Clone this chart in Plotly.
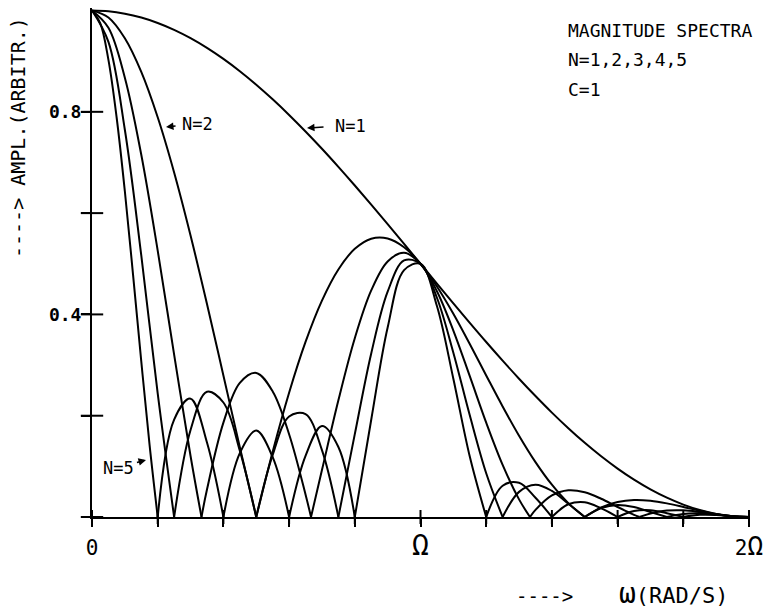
import plotly.graph_objects as go

# ---------------- data (omega in units of Omega, amplitude arbitrary) ----------------
n1_w = [0, 0.05, 0.1, 0.15, 0.2, 0.25, 0.3, 0.35, 0.4, 0.45, 0.5, 0.55, 0.6, 0.65, 0.7, 0.75,
        0.8, 0.85, 0.9, 0.95, 1.0, 1.05, 1.1, 1.15, 1.2, 1.25, 1.3, 1.35, 1.4, 1.45, 1.5, 1.55,
        1.6, 1.65, 1.7, 1.75, 1.8, 1.85, 1.9, 1.95, 2.0]
n1_amp = [1.0, 0.9985, 0.9938, 0.9862, 0.9755, 0.9619, 0.9455, 0.9263, 0.9045, 0.8802, 0.8536,
          0.8247, 0.7939, 0.7612, 0.7270, 0.6913, 0.6545, 0.6167, 0.5782, 0.5392, 0.5, 0.4608,
          0.4218, 0.3833, 0.3455, 0.3087, 0.2730, 0.2388, 0.2061, 0.1753, 0.1464, 0.1198, 0.0955,
          0.0737, 0.0545, 0.0381, 0.0245, 0.0138, 0.0062, 0.0015, 0.0]

n2_w = [0, 0.05, 0.1, 0.15, 0.2, 0.25, 0.3, 0.35, 0.4, 0.45, 0.5, None,
        0.5, 0.55, 0.6, 0.65, 0.7, 0.75, 0.8, 0.85, 0.9, 0.95, 1.0, 1.05, 1.1, 1.15, 1.2, 1.25,
        1.3, 1.35, 1.4, 1.45, 1.5, None,
        1.5, 1.55, 1.6, 1.65, 1.7, 1.75, 1.8, 1.85, 1.9, 1.95, 2.0]
n2_amp = [1.0, 0.9862, 0.9452, 0.8787, 0.7892, 0.6802, 0.5558, 0.4205, 0.2795, 0.1377, 0.0, None,
          0.0, 0.1290, 0.2453, 0.3456, 0.4273, 0.4888, 0.5295, 0.5495, 0.5499, 0.5326, 0.5,
          0.4551, 0.4012, 0.3415, 0.2795, 0.2183, 0.1605, 0.1084, 0.0637, 0.0274, 0.0, None,
          0.0, 0.0187, 0.0295, 0.0335, 0.0320, 0.0269, 0.0198, 0.0123, 0.0059, 0.0015, 0.0]

n3_w = [0, 0.05, 0.1, 0.15, 0.2, 0.25, 0.3, 0.3333, None,
        0.3333, 0.35, 0.4, 0.45, 0.5, 0.55, 0.6, 0.65, 0.6667, None,
        0.6667, 0.7, 0.75, 0.8, 0.85, 0.9, 0.95, 1.0, 1.05, 1.1, 1.15, 1.2, 1.25, 1.3, 1.3333, None,
        1.3333, 1.35, 1.4, 1.45, 1.5, 1.55, 1.6, 1.65, 1.6667, None,
        1.6667, 1.7, 1.75, 1.8, 1.85, 1.9, 1.95, 2.0]
n3_amp = [1.0, 0.9659, 0.8673, 0.7152, 0.5261, 0.3206, 0.1204, 0.0, None,
          0.0, 0.0542, 0.1863, 0.2647, 0.2845, 0.2480, 0.1635, 0.0445, 0.0, None,
          0.0, 0.0926, 0.2304, 0.3530, 0.4473, 0.5046, 0.5216, 0.5, 0.4457, 0.3681, 0.2780,
          0.1863, 0.1029, 0.0348, 0.0, None,
          0.0, 0.0140, 0.0425, 0.0527, 0.0488, 0.0360, 0.0197, 0.0043, 0.0, None,
          0.0, 0.0069, 0.0127, 0.0132, 0.0100, 0.0054, 0.0015, 0.0]

n4_w = [0, 0.05, 0.1, 0.15, 0.2, 0.25, None,
        0.25, 0.3, 0.35, 0.4, 0.45, 0.5, None,
        0.5, 0.55, 0.6, 0.65, 0.7, 0.75, None,
        0.75, 0.8, 0.85, 0.9, 0.95, 1.0, 1.05, 1.1, 1.15, 1.2, 1.25, None,
        1.25, 1.3, 1.35, 1.4, 1.45, 1.5, None,
        1.5, 1.55, 1.6, 1.65, 1.7, 1.75, None,
        1.75, 1.8, 1.85, 1.9, 1.95, 2.0]
n4_amp = [1.0, 0.9380, 0.7646, 0.5165, 0.2439, 0.0, None,
          0.0, 0.1717, 0.2472, 0.2261, 0.1310, 0.0, None,
          0.0, 0.1227, 0.1985, 0.2032, 0.1320, 0.0, None,
          0.0, 0.1636, 0.3230, 0.4449, 0.5065, 0.5, 0.4329, 0.3245, 0.2007, 0.0864, 0.0, None,
          0.0, 0.0496, 0.0637, 0.0515, 0.0261, 0.0, None,
          0.0, 0.0178, 0.0239, 0.0197, 0.0099, 0.0, None,
          0.0, 0.0061, 0.0072, 0.0048, 0.0014, 0.0]

n5_w = [0, 0.025, 0.05, 0.075, 0.1, 0.125, 0.15, 0.175, 0.2, None,
        0.2, 0.25, 0.3, 0.35, 0.4, None,
        0.4, 0.45, 0.5, 0.55, 0.6, None,
        0.6, 0.65, 0.7, 0.75, 0.8, None,
        0.8, 0.85, 0.9, 0.95, 1.0, 1.05, 1.1, 1.15, 1.2, None,
        1.2, 1.25, 1.3, 1.35, 1.4, None,
        1.4, 1.45, 1.5, 1.55, 1.6, None,
        1.6, 1.65, 1.7, 1.75, 1.8, None,
        1.8, 1.85, 1.9, 1.95, 2.0]
n5_amp = [1.0, 0.9751, 0.9026, 0.7888, 0.6432, 0.4782, 0.3072, 0.1437, 0.0, None,
          0.0, 0.1924, 0.2337, 0.1470, 0.0, None,
          0.0, 0.1260, 0.1707, 0.1181, 0.0, None,
          0.0, 0.1208, 0.1797, 0.1383, 0.0, None,
          0.0, 0.1921, 0.3742, 0.4874, 0.5, 0.4166, 0.2730, 0.1194, 0.0, None,
          0.0, 0.0617, 0.0675, 0.0379, 0.0, None,
          0.0, 0.0251, 0.0293, 0.0172, 0.0, None,
          0.0, 0.0117, 0.0135, 0.0076, 0.0, None,
          0.0, 0.0043, 0.0040, 0.0014, 0.0]

x_tick_vals = [0, 0.2, 0.4, 0.6, 0.8, 1.0, 1.2, 1.4, 1.6, 1.8, 2.0]
x_tick_text = ["0", "", "", "", "", "<span style='font-size:28px'>Ω</span>", "", "", "", "",
               "2<span style='font-size:26px'>Ω</span>"]
y_tick_vals = [0, 0.2, 0.4, 0.6, 0.8]
y_tick_text = ["", "", "0.4", "", "0.8"]

FONT = "DejaVu Sans Mono"
INK = "black"

fig = go.Figure()
for xs, ys in [(n1_w, n1_amp), (n2_w, n2_amp), (n3_w, n3_amp), (n4_w, n4_amp), (n5_w, n5_amp)]:
    fig.add_trace(go.Scatter(x=xs, y=ys, mode="lines", connectgaps=False,
                             line=dict(color=INK, width=2, shape="spline", smoothing=1.0),
                             hoverinfo="skip", showlegend=False))

# inner halves of the crossing tick marks
fig.add_trace(go.Scatter(x=x_tick_vals, y=[0] * len(x_tick_vals), mode="markers", cliponaxis=False,
                         marker=dict(symbol="line-ns", size=10, line=dict(width=2, color=INK)),
                         hoverinfo="skip", showlegend=False))
fig.add_trace(go.Scatter(x=[0] * len(y_tick_vals), y=y_tick_vals, mode="markers", cliponaxis=False,
                         marker=dict(symbol="line-ew", size=16, line=dict(width=2, color=INK)),
                         hoverinfo="skip", showlegend=False))

L, R, T, B = 92, 30, 8, 98
W, H = 779, 615
pw, ph = W - L - R, H - T - B


def px(xp):
    return (xp - L) / pw


def py(yp):
    return (H - B - yp) / ph


annots = [
    dict(text="MAGNITUDE SPECTRA", x=px(566), y=py(30.5), size=18),
    dict(text="N=1,2,3,4,5", x=px(566), y=py(60), size=18),
    dict(text="C=1", x=px(566), y=py(89.5), size=18),
]
for a in annots:
    fig.add_annotation(text=a["text"], xref="paper", yref="paper", x=a["x"], y=a["y"],
                       xanchor="left", yanchor="middle", showarrow=False,
                       font=dict(family=FONT, size=a["size"], color=INK))

# axis titles
fig.add_annotation(text="----> AMPL.(ARBITR.)", xref="paper", yref="paper", x=px(18), y=py(138),
                   xanchor="center", yanchor="middle", textangle=-90, showarrow=False,
                   font=dict(family=FONT, size=20, color=INK))
fig.add_annotation(text="---->    <span style='font-size:28px'>ω</span><span style='font-size:22px'>(RAD/S)</span>",
                   xref="paper", yref="paper",
                   x=px(731), y=py(593), xanchor="right", yanchor="middle", showarrow=False,
                   font=dict(family=FONT, size=19, color=INK))

# curve labels with arrows
labels = [
    dict(text="N=2", x=0.2253, y=0.770, ax=31.5, ay=-3.5, ss=5),
    dict(text="N=1", x=0.6545, y=0.768, ax=43.5, ay=-2.5, ss=10),
    dict(text="N=5", x=0.1644, y=0.1125, ax=-28, ay=7.5, ss=2),
]
for lb in labels:
    fig.add_annotation(text=lb["text"], x=lb["x"], y=lb["y"], xref="x", yref="y",
                       ax=lb["ax"], ay=lb["ay"], showarrow=True, arrowhead=2, arrowsize=1,
                       arrowwidth=1.5, arrowcolor=INK, standoff=0, startstandoff=lb["ss"],
                       font=dict(family=FONT, size=17, color=INK))

fig.update_layout(
    width=W, height=H, margin=dict(l=L, r=R, t=T, b=B, pad=0),
    paper_bgcolor="white", plot_bgcolor="white", showlegend=False,
    xaxis=dict(range=[0, 2], showline=True, linecolor=INK, linewidth=2, showgrid=False,
               zeroline=False, tickmode="array", tickvals=x_tick_vals, ticktext=x_tick_text,
               ticks="outside", ticklen=8, tickwidth=2, tickcolor=INK, ticklabelstandoff=3,
               tickfont=dict(family=FONT, size=21, color=INK)),
    yaxis=dict(range=[0, 1.005], showline=True, linecolor=INK, linewidth=2, showgrid=False,
               zeroline=False, tickmode="array", tickvals=y_tick_vals, ticktext=y_tick_text,
               ticks="outside", ticklen=9, tickwidth=2, tickcolor=INK, ticklabelstandoff=-4,
               tickfont=dict(family=FONT, size=18, color=INK, weight="bold")),
)

fig.write_html("out.html")
